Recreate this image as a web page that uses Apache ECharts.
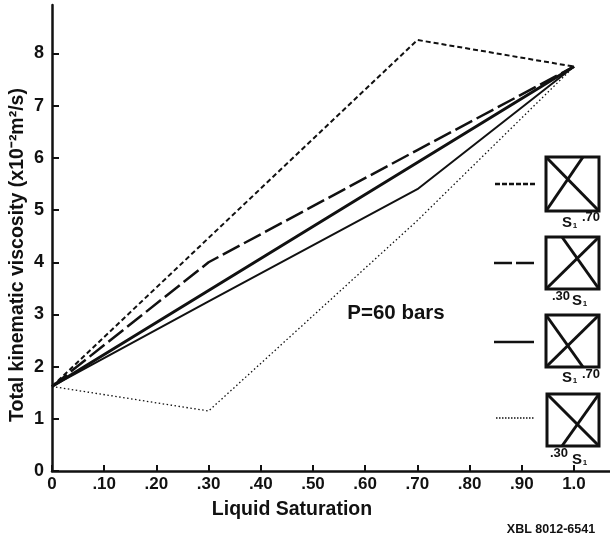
<!DOCTYPE html>
<html><head><meta charset="utf-8">
<script src="https://cdn.jsdelivr.net/npm/echarts@6/dist/echarts.min.js"></script>
<style>html,body{margin:0;padding:0;background:#fff}#c{width:610px;height:545px}</style></head>
<body><div id="c"></div>
<script>
const saturation = [0, 0.3, 0.7, 1.0];
const shortDash = [1.62, 8.26, 7.75];
const shortDashX = [0, 0.7, 1.0];
const longDash = [1.62, 4.0, 6.15, 7.75];
const thickSolid = [1.62, 3.46, 5.91, 7.75];
const thinSolid = [1.62, 3.25, 5.4, 7.75];
const dotted = [1.62, 1.15, 4.8, 7.75];
const xTicks = [0,0.1,0.2,0.3,0.4,0.5,0.6,0.7,0.8,0.9,1.0];
const xTickLabels = ['0','.10','.20','.30','.40','.50','.60','.70','.80','.90','1.0'];
const yTicks = [0,1,2,3,4,5,6,7,8];
const FONT = '"Liberation Sans", Arial, sans-serif';
const INK = '#111';
const pts = (v,xs=saturation) => xs.map((x,i)=>[x,v[i]]);
const line = (data,width,type) => ({type:'line',data,symbol:'none',silent:true,animation:false,
  lineStyle:{color:INK,width,type}});
const seg = (x1,y1,x2,y2,w=3,dash) => ({type:'line',shape:{x1,y1,x2,y2},style:{stroke:INK,lineWidth:w,lineDash:dash}});
const txt = (x,y,text,size) => ({type:'text',x,y,style:{text,font:'bold '+size+'px '+FONT,fill:INK,textAlign:'center',textVerticalAlign:'middle'}});
function box(x,y,w,h,l1,l2){
  return [{type:'rect',shape:{x,y,width:w,height:h},style:{fill:'none',stroke:INK,lineWidth:3}},
    seg(l1[0],l1[1],l1[2],l1[3]),seg(l2[0],l2[1],l2[2],l2[3])];
}
const S1 = (x,y) => [txt(x,y,'S',15),txt(x+8,y+3,'1',8)];
const graphics = [
  ...box(546,157,53,54,[546,157,599,211],[546,211,583,157]),
  ...box(546,237,53,52,[599,237,546,289],[562,237,599,289]),
  ...box(546,315,53,52,[546,315,583,367],[546,367,599,315]),
  ...box(547,394,52,52,[547,394,599,446],[562,446,599,394]),
  seg(495,184,535,184,2.5,[5,2]),
  seg(494,263,534,263,2.5,[18,4]),
  seg(494,342,534,342,2.5),
  seg(496,418,535,418,1.5,[1.5,1.5]),
  ...S1(567,223),txt(591,217,'.70',13),
  txt(561,296,'.30',13),...S1(577,301),
  ...S1(567,378),txt(591,374,'.70',13),
  txt(559,453,'.30',13),...S1(577,460),
  txt(396,313,'P=60 bars',20.5),
  txt(551,530,'XBL 8012-6541',12.5)
];
const chart = echarts.init(document.getElementById('c'),null,{renderer:'canvas'});
chart.setOption({
  animation:false,
  backgroundColor:'#fff',
  grid:{left:52,top:5,width:558,height:466,containLabel:false,outerBoundsMode:'none'},
  xAxis:{type:'value',min:0,max:1.069,
    name:'Liquid Saturation',nameLocation:'middle',nameGap:29,nameMoveOverlap:false,
    nameTextStyle:{color:INK,fontFamily:FONT,fontWeight:'bold',fontSize:19.5,padding:[0,78,0,0]},
    axisLine:{lineStyle:{color:INK,width:2.5}},
    axisTick:{show:true,inside:true,length:6,lineStyle:{color:INK,width:2},customValues:xTicks},
    axisLabel:{color:INK,fontFamily:FONT,fontWeight:'bold',fontSize:17,margin:5,
      customValues:xTicks,formatter:v=>xTickLabels[xTicks.findIndex(t=>Math.abs(t-v)<1e-6)]},
    splitLine:{show:false}},
  yAxis:{type:'value',min:0,max:8.93,
    name:'Total kinematic viscosity (x10⁻²m²/s)',nameLocation:'middle',nameGap:34,nameMoveOverlap:false,
    nameTextStyle:{color:INK,fontFamily:FONT,fontWeight:'bold',fontSize:19.5,padding:[0,34,0,0],verticalAlign:'middle'},
    axisLine:{lineStyle:{color:INK,width:2.5}},
    axisTick:{show:true,inside:true,length:7,lineStyle:{color:INK,width:2},customValues:yTicks},
    axisLabel:{color:INK,fontFamily:FONT,fontWeight:'bold',fontSize:18,margin:8,customValues:yTicks},
    splitLine:{show:false}},
  series:[
    line(pts(shortDash,shortDashX),2,[5,3]),
    line(pts(longDash),2.5,[19,5]),
    line(pts(thickSolid),3,'solid'),
    line(pts(thinSolid),2,'solid'),
    line(pts(dotted),1.3,[1.5,2.5])
  ],
  graphic:graphics
});
</script></body></html>
